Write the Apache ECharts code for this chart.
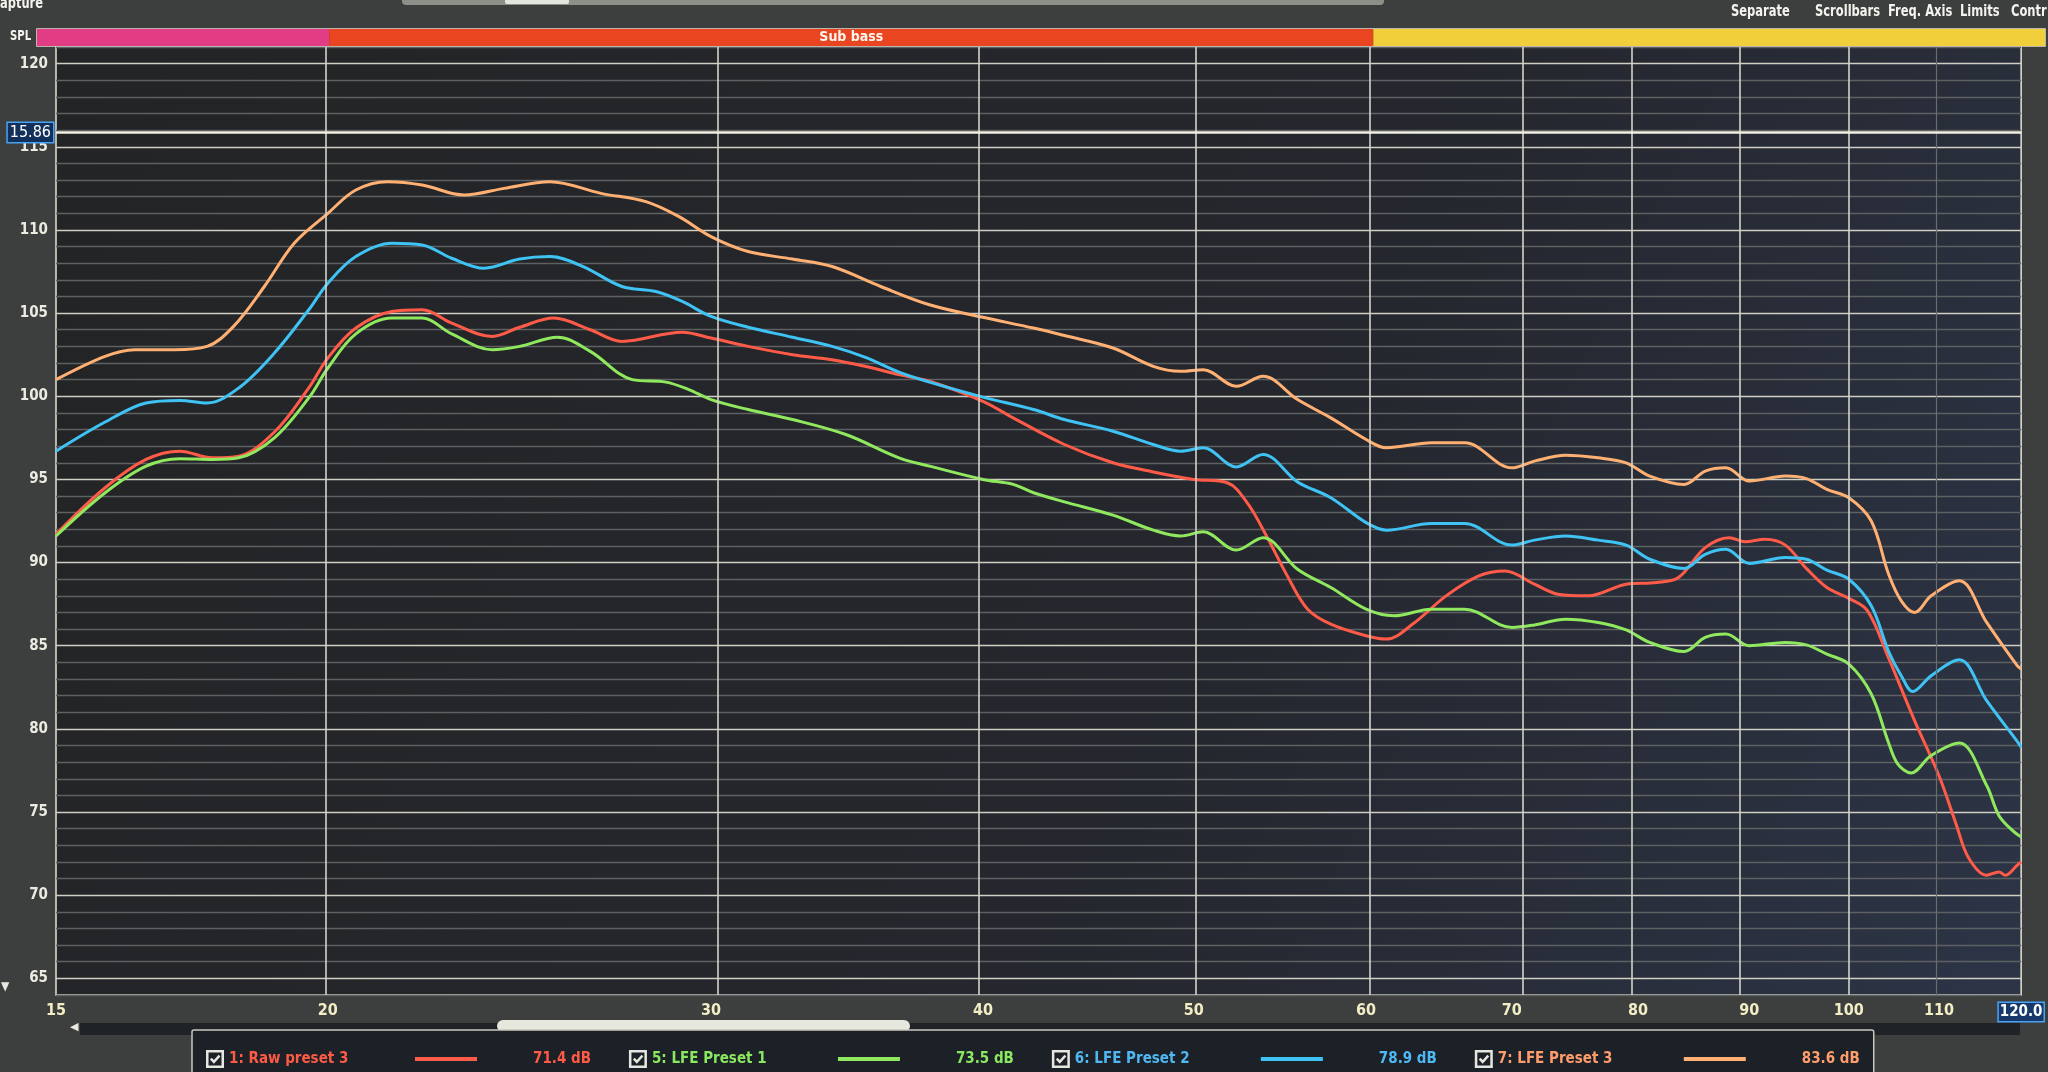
<!DOCTYPE html>
<html>
<head>
<meta charset="utf-8">
<script src="https://cdn.jsdelivr.net/npm/echarts@6/dist/echarts.min.js"></script>
<style>html,body{margin:0;padding:0;background:#3c3f3d;}#c{width:2048px;height:1072px;}</style>
</head>
<body>
<div id="c"></div>
<script>
// ---------- data ----------
const seriesNames = ['1: Raw preset 3', '5: LFE Preset 1', '6: LFE Preset 2', '7: LFE Preset 3'];
const legendValues = ['71.4 dB', '73.5 dB', '78.9 dB', '83.6 dB'];

const rawFreq = [15,15.8,16.5,17.1,17.7,18.2,18.9,19.6,20,20.6,21.4,22.1,22.8,23.8,24.5,25.4,26.4,27.3,29.1,30,31.2,32.7,34.1,35.3,36.6,37.8,40,41.3,43.6,45.9,47.9,50,51.8,52.9,54,55.2,56.4,57.8,60,61.3,63.1,65.3,67.6,69.5,71.7,73.5,75.9,79,81.6,83.5,85.9,88.1,89.6,91.5,93.5,95.6,97.7,100,102,104.3,107.2,110,112,113.5,115.7,117.2,118,119.5,120];
const rawSpl  = [91.7,94.5,96.2,96.7,96.3,96.4,97.85,100.5,102.3,104.1,105.1,105.2,104.4,103.6,104.15,104.7,104.0,103.3,103.85,103.5,103.0,102.5,102.2,101.8,101.3,100.9,99.7,98.7,97.1,96.0,95.45,95.0,94.8,93.6,91.6,89.2,87.2,86.3,85.6,85.4,86.35,88.0,89.2,89.5,88.7,88.1,88.0,88.7,88.8,89.1,90.9,91.5,91.25,91.4,91.05,89.65,88.5,87.85,87.1,84.25,80.5,77.2,74.3,72.25,71.2,71.4,71.2,71.8,72.0];

const lfe1Freq = [15,15.8,16.5,17.1,17.7,18.2,18.9,19.6,20,20.6,21.4,22.1,22.8,23.8,24.5,25.5,26.4,27.6,28.6,29.3,30,31.2,32.7,34.6,36.6,37.8,40,41.3,42.2,43.6,45.9,47.9,49.3,50.5,52.3,53.8,55.8,57.8,60,61.8,64.3,66.6,70,71.7,74.1,76.7,79,81,84,85.9,87.8,90,93.5,95.6,97.7,100,102.4,104.3,105.3,106.8,109.1,112.4,115.7,117.2,119,120];
const lfe1Spl  = [91.6,94.2,95.8,96.25,96.2,96.3,97.5,99.9,101.7,103.75,104.7,104.7,103.75,102.8,103.0,103.55,102.7,101.0,100.85,100.4,99.8,99.2,98.6,97.7,96.3,95.8,95.0,94.7,94.2,93.65,92.85,91.95,91.6,91.85,90.75,91.5,89.6,88.5,87.2,86.8,87.2,87.2,86.1,86.25,86.6,86.4,85.95,85.2,84.65,85.5,85.7,85.0,85.2,85.05,84.5,83.9,82.1,79.15,77.9,77.35,78.4,79.15,76.6,74.8,73.85,73.5];

const lfe2Freq = [15,15.8,16.5,17.1,17.6,18.2,18.9,19.6,20,20.6,21.4,22.1,22.8,23.6,24.5,25.3,26.2,27.3,28.3,29.1,30,31.2,32.7,34.1,35.3,36.6,37.8,40,42.2,43.6,45.9,47.9,49.3,50.5,52.3,53.8,55.8,57.8,60,61.3,64.3,66.6,70,71.7,74.1,76.7,79,81,84,85.9,87.8,90,93.5,95.6,97.7,100,102.4,104.3,105.7,107,109.1,112.4,115.7,119.5,120];
const lfe2Spl  = [96.7,98.45,99.6,99.75,99.6,100.5,102.6,105.2,106.8,108.4,109.2,109.1,108.3,107.7,108.25,108.4,107.8,106.6,106.3,105.7,104.8,104.15,103.55,103.0,102.35,101.45,100.85,99.95,99.2,98.6,97.9,97.1,96.7,96.9,95.75,96.5,94.85,93.9,92.4,91.95,92.35,92.35,91.05,91.35,91.6,91.35,91.05,90.2,89.65,90.5,90.8,89.95,90.3,90.2,89.55,89.0,87.4,84.65,83.2,82.25,83.2,84.15,81.7,79.25,78.9];

const lfe3Freq = [15,15.8,16.3,17,17.6,18.1,18.7,19.3,20,20.6,21.3,22.1,23.1,24.1,25.3,26.7,28,29,30,31.2,32.7,34.1,35.9,37.8,40,42.2,43.6,45.9,47.9,49.3,50.5,52.3,53.8,55.8,57.8,60,61.3,64.3,66.6,70,71.7,74.1,76.7,79,81,84,85.9,87.8,90,93.5,95.6,97.7,100,102.4,104.3,105.7,107.2,109.1,112.4,115.7,119.5,120];
const lfe3Spl  = [101.0,102.4,102.8,102.8,103.0,104.2,106.6,109.2,111.0,112.4,112.9,112.7,112.1,112.5,112.9,112.2,111.7,110.8,109.6,108.7,108.25,107.8,106.6,105.5,104.75,104.1,103.65,102.9,101.8,101.5,101.6,100.6,101.2,99.8,98.7,97.4,96.9,97.2,97.2,95.7,96.1,96.45,96.3,96.0,95.2,94.7,95.5,95.7,94.9,95.2,95.05,94.4,93.9,92.5,89.3,87.7,87.0,88.0,88.9,86.4,83.8,83.6];

const freqTickLabels = [15, 20, 30, 40, 50, 60, 70, 80, 90, 100, 110, 120];
const freqMajorLines = [20, 30, 40, 50, 60, 70, 80, 90, 100];
const freqMinorLines = [110];
const cursorLevel = 115.86;
const bandRanges = [[14.705, 20, ''], [20, 60, 'Sub bass'], [60, 121.65, '']];
const menuItems = ['Separate', 'Scrollbars', 'Freq. Axis', 'Limits', 'Contr'];

// ---------- styles ----------
const lineColors = ['#ff5b48', '#8fe85e', '#3fc3f4', '#ffb072'];
const textColors = ['#ff5a45', '#8ae860', '#4fb8f2', '#ff9c6c'];
const bandColors = ['#e23c84', '#ea4521', '#f0cf3a'];
const FONT = "'Liberation Sans Narrow','DejaVu Sans Condensed','Roboto Condensed','Liberation Sans',sans-serif";
const lg = v => Math.log10(v);

const chart = echarts.init(document.getElementById('c'), null, {renderer: 'canvas'});

const freqSets = [rawFreq, lfe1Freq, lfe2Freq, lfe3Freq];
const splSets = [rawSpl, lfe1Spl, lfe2Spl, lfe3Spl];

const rich = {g: {width: 56}};
seriesNames.forEach((n, i) => {
  rich['n' + i] = {color: textColors[i], fontSize: 15, fontWeight: 'bold', fontFamily: FONT, width: 186, lineHeight: 20};
  rich['l' + i] = {width: 62, height: 4, backgroundColor: lineColors[i]};
  rich['v' + i] = {color: textColors[i], fontSize: 15, fontWeight: 'bold', fontFamily: FONT, width: 56, lineHeight: 20};
});

const curveSeries = seriesNames.map((name, i) => ({
  name: name,
  type: 'line',
  xAxisIndex: 0, yAxisIndex: 0,
  data: freqSets[i].map((f, k) => [lg(f), splSets[i][k]]),
  showSymbol: false,
  smooth: 0.35,
  lineStyle: {color: lineColors[i], width: 3},
  itemStyle: {color: lineColors[i]},
  z: 3
}));

const gridLineSeries = {
  type: 'line', xAxisIndex: 0, yAxisIndex: 0, data: [], silent: true, z: 1,
  markLine: {
    silent: true, symbol: 'none', animation: false,
    label: {show: false},
    lineStyle: {color: '#d4d4ca', width: 1.6, type: 'solid'},
    data: freqMajorLines.map(f => ({xAxis: lg(f)}))
      .concat(freqMinorLines.map(f => ({xAxis: lg(f), lineStyle: {color: '#6a6d6e', width: 1.2, type: 'solid'}})))
  }
};

const cursorSeries = {
  type: 'line', xAxisIndex: 0, yAxisIndex: 0, data: [], silent: true, z: 4,
  markLine: {
    silent: true, symbol: 'none', animation: false,
    data: [{
      yAxis: cursorLevel,
      lineStyle: {color: '#f2f0e2', width: 2.5, type: 'solid'},
      label: {
        show: true, position: 'start', distance: 3,
        formatter: '15.86',
        color: '#ffffff', fontSize: 16, fontFamily: FONT,
        backgroundColor: '#12305a', borderColor: '#4aa2f2', borderWidth: 1.5,
        padding: [2, 2, 1, 2]
      }
    }]
  }
};

const bandSeries = {
  type: 'line', xAxisIndex: 1, yAxisIndex: 1, data: [], silent: true,
  markArea: {
    silent: true,
    data: bandRanges.map((b, i) => [
      {xAxis: lg(b[0]), itemStyle: {color: bandColors[i], opacity: 1},
       label: {show: b[2] !== '', position: 'inside', formatter: b[2], color: '#fff6ee',
               fontSize: 14, fontWeight: 'bold', fontFamily: FONT}},
      {xAxis: lg(b[1])}
    ])
  }
};

const minorC = '#5e6162', majorC = '#cfcfc4';

const menuX = [1731, 1815, 1888, 1960, 2011];
const menuGraphics = menuItems.map((t, i) => ({
  type: 'text', x: menuX[i], y: 4, scaleX: 0.8, silent: true,
  style: {text: t, fill: '#f4f4ee', fontSize: 16, fontWeight: 'bold', fontFamily: FONT, verticalAlign: 'top'}
}));

const option = {
  backgroundColor: '#3c3f3d',
  animation: false,
  grid: [
    {left: 56, right: 16, top: 47, bottom: 77, show: true,
     backgroundColor: {type: 'linear', x: 0, y: 0, x2: 1, y2: 1,
       colorStops: [{offset: 0, color: '#232425'}, {offset: 0.6, color: '#25272e'}, {offset: 1, color: '#2c3446'}]},
     borderColor: '#d8d8cc', borderWidth: 1.6},
    {left: 37, right: 3, top: 29, height: 17, show: true, borderColor: '#e6ddd2', borderWidth: 1.5, backgroundColor: 'transparent'}
  ],
  xAxis: [
    {type: 'value', gridIndex: 0, min: lg(15), max: lg(120),
     axisLine: {show: false}, axisTick: {show: false}, splitLine: {show: false},
     axisLabel: {
       customValues: freqTickLabels.map(lg),
       margin: 8, color: '#f2edc4', fontSize: 16, fontWeight: 'bold', fontFamily: FONT,
       formatter: v => { const f = Math.round(Math.pow(10, v)); return f === 120 ? '{sel|120.0}' : String(f); },
       rich: {sel: {color: '#ffffff', fontSize: 15, fontFamily: FONT, backgroundColor: '#17386a',
                    borderColor: '#4aa2f2', borderWidth: 1.5, padding: [2, 1, 1, 1]}}
     }},
    {type: 'value', gridIndex: 1, min: lg(14.705), max: lg(121.65), show: false}
  ],
  yAxis: [
    {type: 'value', gridIndex: 0, min: 64, max: 121, interval: 1,
     axisLine: {show: false}, axisTick: {show: false},
     axisLabel: {formatter: v => (v % 5 === 0 ? String(v) : ''), color: '#ecebe2', fontSize: 15,
                 fontWeight: 'bold', fontFamily: FONT, margin: 8},
     splitLine: {show: true, lineStyle: {color: [minorC, majorC, minorC, minorC, minorC], width: 1.4}}},
    {type: 'value', gridIndex: 1, min: 0, max: 1, show: false}
  ],
  legend: {
    show: true, data: seriesNames, selectedMode: false,
    left: 192, top: 1030, orient: 'horizontal',
    itemWidth: 18, itemHeight: 18, itemGap: 38,
    icon: 'path://M0,0L10,0L10,10L0,10Z M1.4,1.4L1.4,8.6L8.6,8.6L8.6,1.4Z M2.2,5.3L3.2,4.3L4.4,5.6L7.0,2.6L8.0,3.6L4.4,7.6Z',
    itemStyle: {color: '#e6e6e0'},
    backgroundColor: '#1c2127', borderColor: '#c8c8bc', borderWidth: 1.5, borderRadius: 2,
    padding: [20, 14, 12, 14],
    textStyle: {rich: rich, fontFamily: FONT},
    formatter: name => {
      const i = seriesNames.indexOf(name);
      return '{n' + i + '|' + name + '}{l' + i + '|}{g|}{v' + i + '|' + legendValues[i] + '}';
    }
  },
  graphic: [
    {type: 'rect', left: 402, top: -6, shape: {width: 982, height: 11, r: 4}, style: {fill: '#8b9188'}, silent: true},
    {type: 'rect', left: 505, top: -6, shape: {width: 64, height: 10, r: 2}, style: {fill: '#e4e6de'}, silent: true},
    {type: 'text', x: 0, y: -3, scaleX: 0.85, silent: true, style: {text: 'apture', fill: '#f4f4ee', fontSize: 15, fontWeight: 'bold', fontFamily: FONT, verticalAlign: 'top'}},
    {type: 'text', x: 10, y: 29, scaleX: 0.8, silent: true, style: {text: 'SPL', fill: '#f4f4ee', fontSize: 14, fontWeight: 'bold', fontFamily: FONT, verticalAlign: 'top'}},
    {type: 'text', left: 1, top: 981, style: {text: '▼', fill: '#e8e8e0', fontSize: 12, fontFamily: FONT}, silent: true},
    {type: 'rect', left: 80, top: 1023, shape: {width: 1940, height: 12}, style: {fill: '#1f2328'}, silent: true},
    {type: 'rect', left: 497, top: 1020, shape: {width: 413, height: 12, r: 6}, style: {fill: '#e6e8de'}, silent: true},
    {type: 'text', left: 70, top: 1021, style: {text: '◀', fill: '#e8e8e0', fontSize: 11}, silent: true},
    {type: 'text', left: 2010, top: 1004, style: {text: '▶', fill: '#e8e8e0', fontSize: 11}, silent: true}
  ].concat(menuGraphics),
  series: [gridLineSeries, bandSeries].concat(curveSeries).concat([cursorSeries])
};

chart.setOption(option);
</script>
</body>
</html>
